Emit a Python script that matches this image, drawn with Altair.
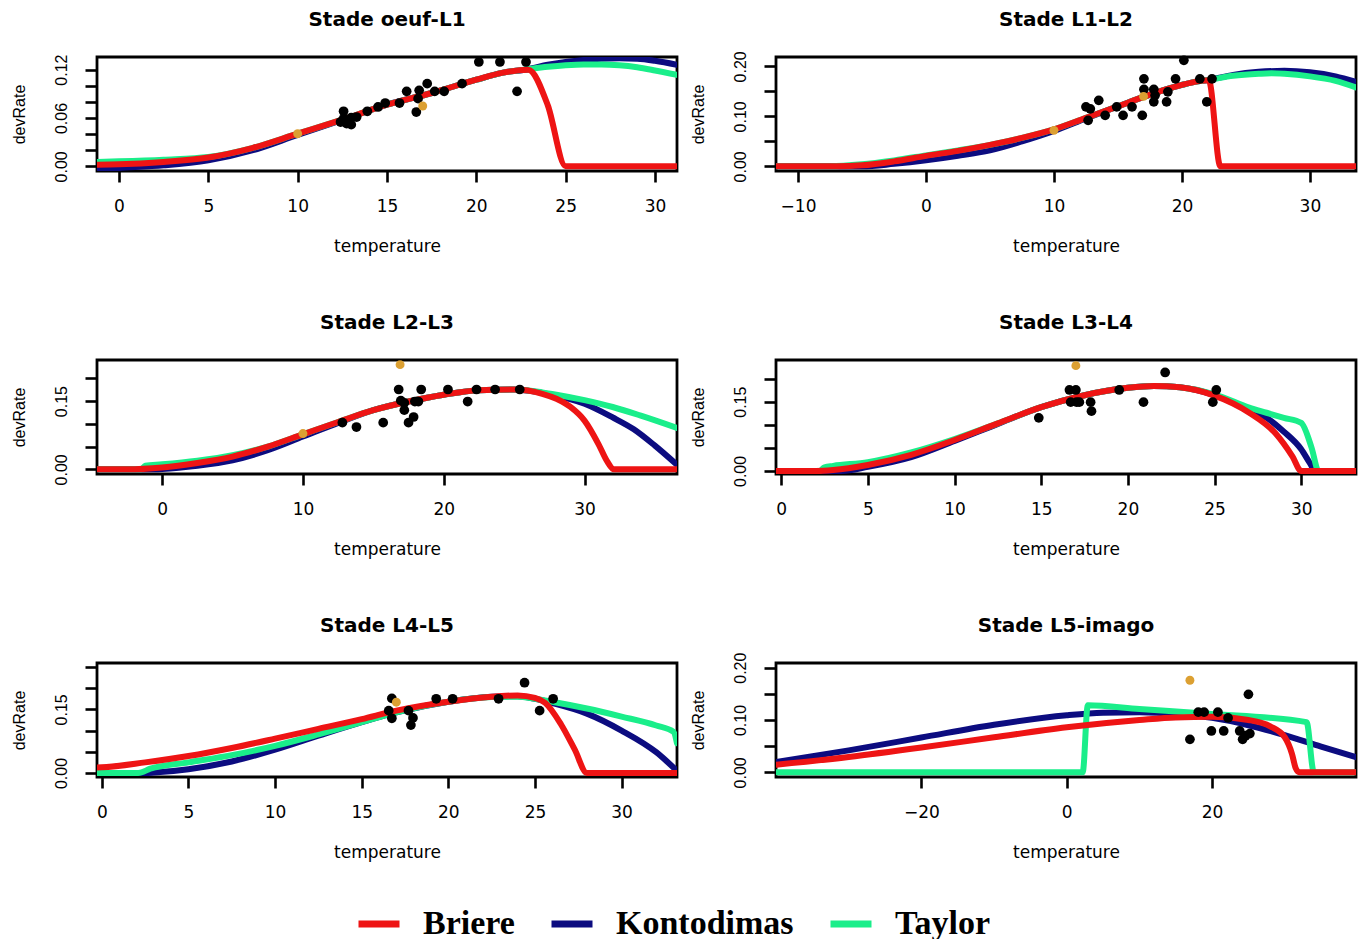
import altair as alt
import pandas as pd

MODELS = ["Briere", "Kontodimas", "Taylor"]
MODEL_COLORS = ["#ee1414", "#0c0c80", "#1aee8a"]
DRAW_ORDER = ["Kontodimas", "Taylor", "Briere"]

TITLES = ["Stade oeuf-L1", "Stade L1-L2", "Stade L2-L3",
          "Stade L3-L4", "Stade L4-L5", "Stade L5-imago"]

X_DOMAINS = [[-1.23, 31.23], [-11.72, 33.6], [-4.63, 36.57],
             [-0.3, 33.16], [-0.28, 33.2], [-40.0, 39.8]]
Y_DOMAINS = [[-0.0058, 0.1357], [-0.0093, 0.2187], [-0.0102, 0.2402],
             [-0.0066, 0.2402], [-0.0095, 0.2595], [-0.0089, 0.2089]]
X_TICKS = [[0, 5, 10, 15, 20, 25, 30], [-10, 0, 10, 20, 30], [0, 10, 20, 30],
           [0, 5, 10, 15, 20, 25, 30], [0, 5, 10, 15, 20, 25, 30], [-20, 0, 20]]
Y_TICKS = [[0, 0.02, 0.04, 0.06, 0.08, 0.10, 0.12],
           [0, 0.05, 0.10, 0.15, 0.20],
           [0, 0.05, 0.10, 0.15, 0.20],
           [0, 0.05, 0.10, 0.15, 0.20],
           [0, 0.05, 0.10, 0.15, 0.20, 0.25],
           [0, 0.05, 0.10, 0.15, 0.20]]
Y_LABEL_EVERY = [6, 10, 15, 15, 15, 10]  # labelled ticks, in hundredths

# ---- Stade oeuf-L1 ----
P1_BRIERE = [(-1.23, 0.002), (0, 0.0025), (2.5, 0.0055), (5, 0.011), (7.5, 0.023),
             (10, 0.0405), (12.5, 0.058), (15, 0.0765), (17.5, 0.091), (20, 0.1075),
             (21.5, 0.1163), (22.9, 0.12), (24, 0.0757), (25, 0.0), (31.23, 0.0)]
P1_KONTODIMAS = [(-1.23, -0.0037), (0, -0.002), (2.5, 0.0012), (5, 0.0074), (7.5, 0.02),
                 (10, 0.039), (12.5, 0.0575), (15, 0.0765), (17.5, 0.091), (20, 0.1075),
                 (21.5, 0.1163), (22.9, 0.1205), (24, 0.126), (25, 0.1295), (26, 0.132),
                 (27, 0.1335), (28, 0.134), (29, 0.1335), (30, 0.131), (31.23, 0.126)]
P1_TAYLOR = [(-1.23, 0.0054), (0, 0.0062), (2.5, 0.0083), (5, 0.0116), (7.5, 0.023),
             (10, 0.0405), (12.5, 0.058), (15, 0.0765), (17.5, 0.091), (20, 0.1075),
             (21.5, 0.1163), (22.9, 0.1205), (24, 0.1235), (25, 0.1255), (26, 0.1265),
             (27, 0.1265), (28, 0.1255), (29, 0.123), (30, 0.119), (31.23, 0.1135)]
P1_OBS = [(20.14, 0.1295), (21.32, 0.1295), (22.78, 0.1295), (22.28, 0.0931), (19.2, 0.1026),
          (18.2, 0.0931), (17.67, 0.0931), (17.25, 0.1026), (16.8, 0.0943), (16.74, 0.084),
          (16.1, 0.0931), (15.7, 0.0786), (14.9, 0.0786), (14.5, 0.0737), (13.9, 0.0683),
          (16.64, 0.0674), (13.3, 0.0612), (13.0, 0.0604), (12.57, 0.0683), (12.57, 0.0592),
          (12.74, 0.053), (13.0, 0.0517), (12.4, 0.055)]
P1_REF = [(10.0, 0.0405), (17.0, 0.0749)]

# ---- Stade L1-L2 ----
P2_BRIERE = [(-11.72, 0), (-7, 0), (-5, 0.002), (-2.5, 0.01), (0, 0.021), (2.5, 0.031),
             (5, 0.043), (7.5, 0.057), (10, 0.074), (12.5, 0.097), (15, 0.12), (17, 0.139),
             (18.5, 0.152), (20, 0.163), (21, 0.169), (22.1, 0.172), (23, 0), (33.6, 0)]
P2_KONTODIMAS = [(-11.72, 0), (-5, 0), (-2.5, 0.005), (0, 0.012), (2.5, 0.021), (5, 0.032),
                 (7.5, 0.05), (10, 0.071), (12.5, 0.096), (15, 0.12), (17, 0.139), (18.5, 0.152),
                 (20, 0.163), (21, 0.169), (22.1, 0.173), (24, 0.183), (26, 0.189), (28, 0.191),
                 (30, 0.188), (32, 0.18), (33.6, 0.169)]
P2_TAYLOR = [(-11.72, 0), (-7.5, 0), (-5, 0.004), (-2.5, 0.012), (0, 0.022), (2.5, 0.032),
             (5, 0.043), (7.5, 0.057), (10, 0.074), (12.5, 0.097), (15, 0.12), (17, 0.139),
             (18.5, 0.152), (20, 0.163), (21, 0.169), (22.1, 0.173), (24, 0.181), (26, 0.185),
             (27, 0.186), (28, 0.185), (30, 0.18), (32, 0.171), (33.6, 0.158)]
P2_OBS = [(20.15, 0.212), (17.03, 0.175), (17.03, 0.154), (17.8, 0.154), (17.9, 0.142),
          (17.8, 0.129), (18.9, 0.149), (18.8, 0.129), (19.5, 0.175), (21.4, 0.175),
          (22.35, 0.175), (21.94, 0.129), (16.9, 0.102), (16.1, 0.119), (15.4, 0.102),
          (14.9, 0.119), (14.0, 0.102), (13.5, 0.132), (12.5, 0.119), (12.84, 0.115),
          (12.67, 0.092)]
P2_REF = [(10.0, 0.072), (17.0, 0.14)]

# ---- Stade L2-L3 ----
P3_BRIERE = [(-4.63, 0), (-2.5, 0), (0, 0.004), (2.5, 0.014), (5, 0.028), (7.5, 0.05),
             (10, 0.077), (12.5, 0.104), (15, 0.13), (17.5, 0.149), (20, 0.164), (22.5, 0.174),
             (25, 0.1755), (27, 0.166), (28, 0.155), (29, 0.137), (30, 0.107), (31, 0.055),
             (31.6, 0.018), (32.1, 0), (36.57, 0)]
P3_KONTODIMAS = [(-4.63, 0), (-1, 0), (0, 0.001), (2.5, 0.008), (5, 0.02), (7.5, 0.042),
                 (10, 0.072), (12.5, 0.102), (15, 0.13), (17.5, 0.149), (20, 0.164),
                 (22.5, 0.174), (25, 0.1755), (27, 0.168), (28, 0.162), (30, 0.144),
                 (32, 0.114), (33.5, 0.088), (35, 0.052), (36.57, 0.01)]
P3_TAYLOR = [(-4.63, 0), (-1.5, 0), (-1.2, 0.008), (0, 0.011), (2.5, 0.019), (5, 0.031),
             (7.5, 0.05), (10, 0.077), (12.5, 0.104), (15, 0.13), (17.5, 0.149), (20, 0.164),
             (22.5, 0.174), (25, 0.1755), (27, 0.169), (28, 0.164), (30, 0.152), (32, 0.137),
             (34, 0.118), (36.57, 0.091)]
P3_OBS = [(16.8, 0.1754), (18.4, 0.1754), (20.3, 0.1754), (22.33, 0.1754), (23.65, 0.1754),
          (25.4, 0.1754), (21.7, 0.149), (16.95, 0.151), (17.2, 0.146), (17.95, 0.149),
          (18.2, 0.149), (17.2, 0.13), (17.86, 0.115), (17.5, 0.1026), (15.7, 0.1026),
          (13.8, 0.093), (12.8, 0.1026)]
P3_REF = [(10.0, 0.0786), (16.9, 0.23)]

# ---- Stade L3-L4 ----
P4_BRIERE = [(-0.3, 0), (2, 0), (3, 0.002), (5, 0.013), (7.5, 0.035), (10, 0.067),
             (12.5, 0.103), (15, 0.138), (17.5, 0.164), (20, 0.18), (21.5, 0.184), (23, 0.181),
             (25, 0.163), (27, 0.126), (28.5, 0.082), (29.5, 0.031), (30, 0), (33.16, 0)]
P4_KONTODIMAS = [(-0.3, 0), (3.5, 0), (5, 0.009), (7.5, 0.03), (10, 0.065), (12.5, 0.102),
                 (15, 0.138), (17.5, 0.164), (20, 0.18), (21.5, 0.184), (23, 0.181),
                 (25, 0.164), (27, 0.132), (28, 0.115), (29, 0.085), (30, 0.047),
                 (30.5, 0.017), (30.8, 0), (33.16, 0)]
P4_TAYLOR = [(-0.3, 0), (2.2, 0), (2.5, 0.008), (3, 0.011), (5, 0.019), (7.5, 0.04),
             (10, 0.069), (12.5, 0.103), (15, 0.138), (17.5, 0.164), (20, 0.18), (21.5, 0.184),
             (23, 0.181), (25, 0.166), (27, 0.137), (28, 0.126), (29, 0.115), (30, 0.104),
             (30.6, 0.05), (31, 0), (33.16, 0)]
P4_OBS = [(22.15, 0.2132), (16.63, 0.1754), (17.0, 0.1754), (19.5, 0.1754), (25.1, 0.1754),
          (16.7, 0.149), (17.04, 0.149), (17.2, 0.149), (17.85, 0.149), (20.9, 0.149),
          (24.9, 0.149), (17.9, 0.1295), (14.86, 0.115)]
P4_REF = [(17.0, 0.228)]

# ---- Stade L4-L5 ----
P5_BRIERE = [(-0.28, 0.013), (0, 0.0134), (2.5, 0.025), (5, 0.04), (7.5, 0.059), (10, 0.081),
             (12.5, 0.104), (15, 0.127), (17, 0.147), (20, 0.168), (22.5, 0.18), (24, 0.183),
             (25, 0.177), (25.6, 0.165), (26.5, 0.115), (27.3, 0.055), (28, 0), (33.2, 0)]
P5_KONTODIMAS = [(-0.28, 0), (2.5, 0), (3, 0.001), (5, 0.009), (7.5, 0.027), (10, 0.055),
                 (12.5, 0.088), (15, 0.12), (17, 0.143), (20, 0.168), (22.5, 0.18), (24, 0.181),
                 (25, 0.175), (26, 0.165), (28, 0.14), (30, 0.1), (32, 0.049), (33.2, 0.005)]
P5_TAYLOR = [(-0.28, 0), (2.1, 0), (2.8, 0.01), (5, 0.025), (7.5, 0.042), (10, 0.064),
             (12.5, 0.091), (15, 0.12), (17, 0.143), (20, 0.168), (22.5, 0.179), (24, 0.18),
             (25, 0.175), (26, 0.168), (28, 0.152), (30, 0.133), (32, 0.112), (33, 0.097),
             (33.2, 0.07)]
P5_OBS = [(24.4, 0.213), (16.74, 0.176), (19.3, 0.175), (20.25, 0.175), (22.9, 0.175),
          (26.05, 0.175), (25.27, 0.147), (16.56, 0.147), (17.7, 0.147), (16.74, 0.129),
          (17.96, 0.13), (17.84, 0.113)]
P5_REF = [(17.0, 0.167)]

# ---- Stade L5-imago ----
P6_BRIERE = [(-40, 0.0145), (-30, 0.0295), (-20, 0.0475), (-10, 0.067), (0, 0.086),
             (10, 0.1), (15, 0.105), (20, 0.106), (25, 0.1), (28, 0.088), (30, 0.067),
             (31, 0.035), (31.5, 0.008), (32, 0), (39.8, 0)]
P6_KONTODIMAS = [(-40, 0.0197), (-30, 0.042), (-20, 0.0665), (-10, 0.091), (0, 0.109),
                 (5, 0.114), (10, 0.115), (15, 0.112), (20, 0.104), (25, 0.09), (30, 0.071),
                 (35, 0.049), (39.8, 0.029)]
P6_TAYLOR = [(-40, 0), (2.2, 0), (2.9, 0.128), (10, 0.121), (19.5, 0.112), (33, 0.096),
             (34, 0), (39.8, 0)]
P6_OBS = [(25.0, 0.149), (18.1, 0.115), (18.9, 0.115), (20.8, 0.115), (22.2, 0.104),
          (19.9, 0.079), (21.6, 0.079), (23.8, 0.079), (25.2, 0.074), (24.2, 0.063),
          (24.6, 0.07), (16.95, 0.063)]
P6_REF = [(16.95, 0.176)]

CURVES = [
    {"Briere": P1_BRIERE, "Kontodimas": P1_KONTODIMAS, "Taylor": P1_TAYLOR},
    {"Briere": P2_BRIERE, "Kontodimas": P2_KONTODIMAS, "Taylor": P2_TAYLOR},
    {"Briere": P3_BRIERE, "Kontodimas": P3_KONTODIMAS, "Taylor": P3_TAYLOR},
    {"Briere": P4_BRIERE, "Kontodimas": P4_KONTODIMAS, "Taylor": P4_TAYLOR},
    {"Briere": P5_BRIERE, "Kontodimas": P5_KONTODIMAS, "Taylor": P5_TAYLOR},
    {"Briere": P6_BRIERE, "Kontodimas": P6_KONTODIMAS, "Taylor": P6_TAYLOR},
]
OBS = [P1_OBS, P2_OBS, P3_OBS, P4_OBS, P5_OBS, P6_OBS]
REF = [P1_REF, P2_REF, P3_REF, P4_REF, P5_REF, P6_REF]

# layout (not data): title offsets compensate for y labels that reach above the frame
PLOT_W, PLOT_H = 580, 114
TITLE_OFFSETS = [24, 21, 27, 27, 27, 16]

color_scale = alt.Scale(domain=MODELS, range=MODEL_COLORS)
legend = alt.Legend(
    orient="none", legendX=258, legendY=843, direction="horizontal", title=None,
    symbolType="stroke", symbolStrokeWidth=7, symbolSize=1681,
    labelFont="Liberation Serif", labelFontWeight="bold", labelFontSize=34,
    labelColor="black", labelOffset=20, columnPadding=22, padding=0,
    labelLimit=400,
)


def make_panel(i):
    rows = []
    for model, pts in CURVES[i].items():
        for k, (t, r) in enumerate(pts):
            rows.append({"model": model, "temperature": t, "devRate": r, "k": k})
    cdf = pd.DataFrame(rows)

    xs = alt.Scale(domain=X_DOMAINS[i], nice=False, zero=False)
    ys = alt.Scale(domain=Y_DOMAINS[i], nice=False, zero=False)
    step = Y_LABEL_EVERY[i]
    xax = alt.Axis(
        values=X_TICKS[i], title="temperature", offset=0, tickSize=11, tickWidth=2.6,
        tickColor="black", domain=False, grid=False, labelFlush=False, labelOverlap=False,
        labelFont="DejaVu Sans", labelFontSize=17, labelColor="black", labelPadding=16,
        titleFont="DejaVu Sans", titleFontSize=17, titleFontWeight="normal",
        titleColor="black", titleX=PLOT_W / 2, titleY=75, titleBaseline="middle",
        titleAlign="center",
    )
    yax = alt.Axis(
        values=Y_TICKS[i], title="devRate", offset=0, tickSize=12, tickWidth=2.6,
        tickColor="black", domain=False, grid=False, labelFlush=False, labelOverlap=False,
        labelExpr=f"round(datum.value*100) % {step} == 0 ? format(datum.value, '.2f') : ''",
        labelAngle=270, labelAlign="center", labelBaseline="bottom", labelPadding=16,
        labelFont="Liberation Sans", labelFontSize=16, labelColor="black",
        titleFont="Liberation Sans", titleFontSize=16, titleFontWeight="normal",
        titleColor="black", titleAngle=270, titleX=-78, titleY=PLOT_H / 2,
        titleBaseline="middle", titleAlign="center",
    )

    layers = []
    for model in DRAW_ORDER:
        layers.append(
            alt.Chart(cdf[cdf.model == model]).mark_line(
                strokeWidth=6, clip=True, interpolate="monotone",
                strokeCap="round", strokeJoin="round",
            ).encode(
                x=alt.X("temperature:Q", scale=xs, axis=xax),
                y=alt.Y("devRate:Q", scale=ys, axis=yax),
                color=alt.Color("model:N", scale=color_scale, legend=legend),
                order="k:Q",
            )
        )
    obs_df = pd.DataFrame(OBS[i], columns=["temperature", "devRate"])
    ref_df = pd.DataFrame(REF[i], columns=["temperature", "devRate"])
    obs = alt.Chart(obs_df).mark_circle(size=95, opacity=1, color="black").encode(
        x=alt.X("temperature:Q", scale=xs, axis=xax),
        y=alt.Y("devRate:Q", scale=ys, axis=yax),
    )
    ref = alt.Chart(ref_df).mark_circle(size=80, opacity=1, color="#dca032").encode(
        x=alt.X("temperature:Q", scale=xs, axis=xax),
        y=alt.Y("devRate:Q", scale=ys, axis=yax),
    )
    return alt.layer(*layers, obs, ref).properties(
        width=PLOT_W, height=PLOT_H,
        title=alt.TitleParams(
            TITLES[i], font="DejaVu Sans", fontSize=20, fontWeight="bold",
            color="black", anchor="middle", offset=TITLE_OFFSETS[i],
        ),
    )


panels = [make_panel(i) for i in range(6)]

chart = alt.concat(
    *panels, columns=2, spacing={"row": 189, "column": 99}, bounds="flush"
).resolve_scale(color="shared").properties(
    padding={"left": 9, "top": 8, "right": 5, "bottom": 0}
).configure(
    background="white"
).configure_view(
    stroke="black", strokeWidth=2.8
)

chart.save("out.html", embed_options={"renderer": "svg", "actions": False})
